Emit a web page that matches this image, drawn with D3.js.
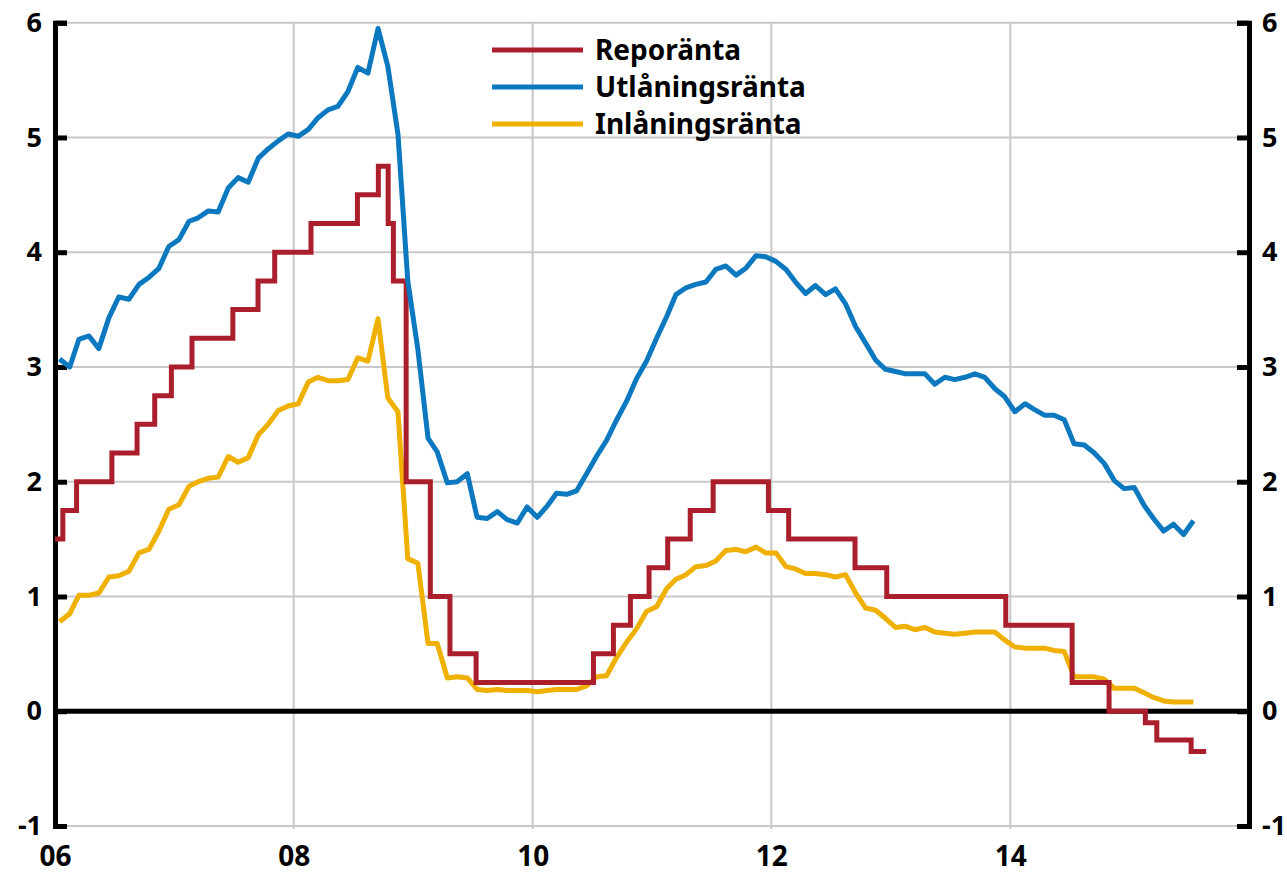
<!DOCTYPE html>
<html>
<head>
<meta charset="utf-8">
<script src="https://cdn.jsdelivr.net/npm/d3@7"></script>
<style>
  body { margin: 0; background: #fff; }
  text { font-family: "Noto Sans", "Open Sans", sans-serif; font-weight: bold; fill: #000; }
</style>
</head>
<body>
<script>
// repo rate: change dates and levels (step series)
const repoDates = ["2006-01-01","2006-01-25","2006-03-08","2006-06-24","2006-09-09","2006-11-02","2006-12-23",
  "2007-02-24","2007-06-29","2007-09-14","2007-11-04","2008-02-23","2008-07-14","2008-09-16","2008-10-16",
  "2008-11-01","2008-12-10","2009-02-22","2009-04-23","2009-07-12","2010-07-06","2010-09-05","2010-10-27",
  "2010-12-23","2011-02-18","2011-04-28","2011-07-07","2011-12-23","2012-02-23","2012-09-13","2012-12-19",
  "2013-12-18","2014-07-09","2014-10-30","2015-02-18","2015-03-25","2015-07-08","2015-08-23"];
const repoValues = [1.5,1.75,2,2.25,2.5,2.75,3,3.25,3.5,3.75,4,4.25,4.5,4.75,4.25,3.75,2,1,0.5,0.25,
  0.5,0.75,1,1.25,1.5,1.75,2,1.75,1.5,1.25,1,0.75,0.25,0,-0.1,-0.25,-0.35,-0.35];

// monthly series, Jan 2006 - Jul 2015
const lendingRate = [3.07,3.00,3.24,3.27,3.16,3.43,3.61,3.59,3.72,3.78,3.86,4.05,
  4.11,4.27,4.30,4.36,4.35,4.56,4.65,4.61,4.82,4.90,4.97,5.03,
  5.01,5.07,5.17,5.24,5.27,5.40,5.61,5.56,5.95,5.62,5.03,3.75,
  3.15,2.38,2.26,1.99,2.00,2.07,1.69,1.68,1.74,1.67,1.64,1.78,
  1.69,1.79,1.90,1.89,1.92,2.07,2.22,2.36,2.54,2.70,2.90,3.05,
  3.25,3.44,3.63,3.69,3.72,3.74,3.85,3.88,3.80,3.86,3.97,3.96,
  3.92,3.85,3.74,3.64,3.71,3.63,3.68,3.55,3.35,3.21,3.06,2.98,
  2.96,2.94,2.94,2.94,2.85,2.91,2.89,2.91,2.94,2.91,2.81,2.74,
  2.61,2.68,2.63,2.58,2.58,2.54,2.33,2.32,2.25,2.16,2.01,1.94,
  1.95,1.79,1.68,1.57,1.63,1.54,1.66];
const depositRate = [0.78,0.85,1.01,1.01,1.03,1.17,1.18,1.22,1.38,1.41,1.57,1.76,
  1.80,1.96,2.00,2.03,2.04,2.22,2.17,2.21,2.41,2.50,2.62,2.66,
  2.68,2.87,2.91,2.88,2.88,2.89,3.08,3.05,3.42,2.73,2.61,1.33,
  1.29,0.59,0.59,0.29,0.30,0.29,0.19,0.18,0.19,0.18,0.18,0.18,
  0.17,0.18,0.19,0.19,0.19,0.22,0.30,0.31,0.47,0.60,0.72,0.87,
  0.91,1.07,1.15,1.19,1.26,1.27,1.31,1.40,1.41,1.39,1.43,1.38,
  1.38,1.26,1.24,1.20,1.20,1.19,1.17,1.19,1.03,0.90,0.88,0.81,
  0.73,0.74,0.71,0.73,0.69,0.68,0.67,0.68,0.69,0.69,0.69,0.62,
  0.56,0.55,0.55,0.55,0.53,0.52,0.30,0.30,0.30,0.28,0.20,0.20,
  0.20,0.16,0.12,0.09,0.08,0.08,0.08];

const seriesNames = ["Reporänta","Utlåningsränta","Inlåningsränta"];
const seriesColors = ["#ab1f2c","#0b78bf","#f0b000"];
const yTicks = [-1,0,1,2,3,4,5,6];
const xTickYears = [2006,2008,2010,2012,2014];

let width = 1287, height = 876;
let mLeft = 55, mRight = 1249, mTop = 22.7, mBottom = 826;

const parse = d3.timeParse("%Y-%m-%d");
// mid-month positions for the monthly series
const months = lendingRate.map((d,i) => new Date(2006, i, 15));

let x = d3.scaleTime()
  .domain([new Date(2006,0,1), new Date(2016,0,1)])
  .range([mLeft, mRight]);
let y = d3.scaleLinear().domain([-1,6]).range([mBottom, mTop]);

let svg = d3.select("body").append("svg")
  .attr("width", width).attr("height", height);

// grid
svg.append("g").selectAll("line").data(yTicks).enter().append("line")
  .attr("x1", mLeft).attr("x2", mRight)
  .attr("y1", d => y(d)).attr("y2", d => y(d))
  .attr("stroke", "#c8c8c8").attr("stroke-width", 2);
svg.append("g").selectAll("line").data(xTickYears.slice(1)).enter().append("line")
  .attr("x1", d => x(new Date(d,0,1))).attr("x2", d => x(new Date(d,0,1)))
  .attr("y1", mTop).attr("y2", mBottom + 3)
  .attr("stroke", "#c8c8c8").attr("stroke-width", 2);

// zero line
svg.append("line")
  .attr("x1", mLeft).attr("x2", mRight)
  .attr("y1", y(0)).attr("y2", y(0))
  .attr("stroke", "#000").attr("stroke-width", 5);

// axes (plain hyphen for negatives, like the original)
let fmt = d => String(d);
let yLeft = svg.append("g").attr("transform", "translate(" + mLeft + ",0)")
  .call(d3.axisLeft(y).tickValues(yTicks).tickSize(-12).tickPadding(13).tickFormat(fmt));
let yRight = svg.append("g").attr("transform", "translate(" + mRight + ",0)")
  .call(d3.axisRight(y).tickValues(yTicks).tickSize(-12).tickPadding(13).tickFormat(fmt));
[yLeft, yRight].forEach(g => {
  g.select(".domain").attr("stroke", "#000").attr("stroke-width", 5);
  g.selectAll(".tick line").attr("stroke", "#000").attr("stroke-width", 5);
  g.selectAll("text").style("font-size", "27px").style("font-family", null);
});

let xAxis = svg.append("g").attr("transform", "translate(0," + mBottom + ")")
  .call(d3.axisBottom(x).tickValues(xTickYears.map(d => new Date(d,0,1)))
    .tickSize(0).tickPadding(20).tickFormat(d3.timeFormat("%y")));
xAxis.select(".domain").remove();
xAxis.selectAll("text").style("font-size", "28px").style("font-family", null);

// lines
let repoLine = d3.line().curve(d3.curveStepAfter)
  .x((d,i) => x(parse(repoDates[i]))).y(d => y(d));
let monthLine = d3.line().x((d,i) => x(months[i])).y(d => y(d));

svg.append("path").datum(depositRate).attr("d", monthLine)
  .attr("fill", "none").attr("stroke", seriesColors[2]).attr("stroke-width", 5)
  .attr("stroke-linejoin", "round");
svg.append("path").datum(repoValues).attr("d", repoLine)
  .attr("fill", "none").attr("stroke", seriesColors[0]).attr("stroke-width", 5);
svg.append("path").datum(lendingRate).attr("d", monthLine)
  .attr("fill", "none").attr("stroke", seriesColors[1]).attr("stroke-width", 5)
  .attr("stroke-linejoin", "round");

// legend
let legend = svg.append("g").attr("transform", "translate(492,50)")
  .selectAll("g").data(seriesNames).enter().append("g")
  .attr("transform", (d,i) => "translate(0," + i*37 + ")");
legend.append("line").attr("x1", 0).attr("x2", 91).attr("y1", 0).attr("y2", 0)
  .attr("stroke", (d,i) => seriesColors[i]).attr("stroke-width", 5);
legend.append("text").attr("x", 103).attr("dy", "0.35em")
  .style("font-size", "28px").text(d => d);
</script>
</body>
</html>
